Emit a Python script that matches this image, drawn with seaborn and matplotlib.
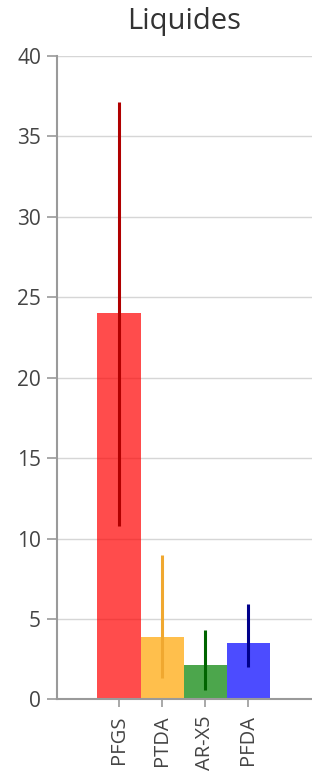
import matplotlib
matplotlib.use('Agg')
import matplotlib.pyplot as plt
import seaborn as sns
import numpy as np

# Données
categories = ['PFGS', 'PTDA', 'AR-X5', 'PFDA']
valeurs = [24.0, 3.87, 2.13, 3.5]
err_haut = [13.15, 5.1, 2.2, 2.44]
err_bas = [13.25, 2.57, 1.55, 1.5]
couleurs_barres = ['#ff0000', '#ffa500', '#008000', '#0000ff']
couleurs_err = ['#b00000', '#f0a830', '#006400', '#00008b']
yticks = [0, 5, 10, 15, 20, 25, 30, 35, 40]

sns.set_style('white')
plt.rcParams['font.family'] = ['Open Sans', 'DejaVu Sans']

fig = plt.figure(figsize=(3.12, 7.76), dpi=100)
ax = fig.add_axes([0.1827, 0.0988, 0.8173, 0.829])

sns.barplot(x=categories, y=valeurs, hue=categories, palette=couleurs_barres,
            legend=False, width=1.0, saturation=1, alpha=0.7, linewidth=0,
            ax=ax, zorder=2)

for i in range(len(categories)):
    ax.errorbar(i, valeurs[i], yerr=[[err_bas[i]], [err_haut[i]]], fmt='none',
                ecolor=couleurs_err[i], elinewidth=2.2, capsize=0, zorder=3)

ax.set_xlim(-1.44, 4.48)
ax.set_ylim(0, 40)
ax.set_yticks(yticks)
ax.set_yticklabels([str(t) for t in yticks])
ax.grid(axis='y', color='#d6d6d6', linewidth=1, zorder=0)
ax.set_axisbelow(True)

for s in ['top', 'right']:
    ax.spines[s].set_visible(False)
ax.spines['left'].set_color('#9a9a9a')
ax.spines['left'].set_linewidth(1.5)
ax.spines['bottom'].set_color('#9a9a9a')
ax.spines['bottom'].set_linewidth(1.5)

ax.tick_params(axis='y', left=True, length=7, width=1.2, color='#9a9a9a',
               pad=4.5, labelsize=15, labelcolor='#444444')
ax.tick_params(axis='x', bottom=True, length=6, width=1.2, color='#9a9a9a',
               pad=5.5, labelsize=14.5, labelcolor='#444444', labelrotation=90)
ax.set_xlabel('')
ax.set_ylabel('')

fig.text(0.5914, 0.972, 'Liquides', ha='center', va='center', fontsize=21, color='#333333')

plt.savefig('out.png', dpi=100)
